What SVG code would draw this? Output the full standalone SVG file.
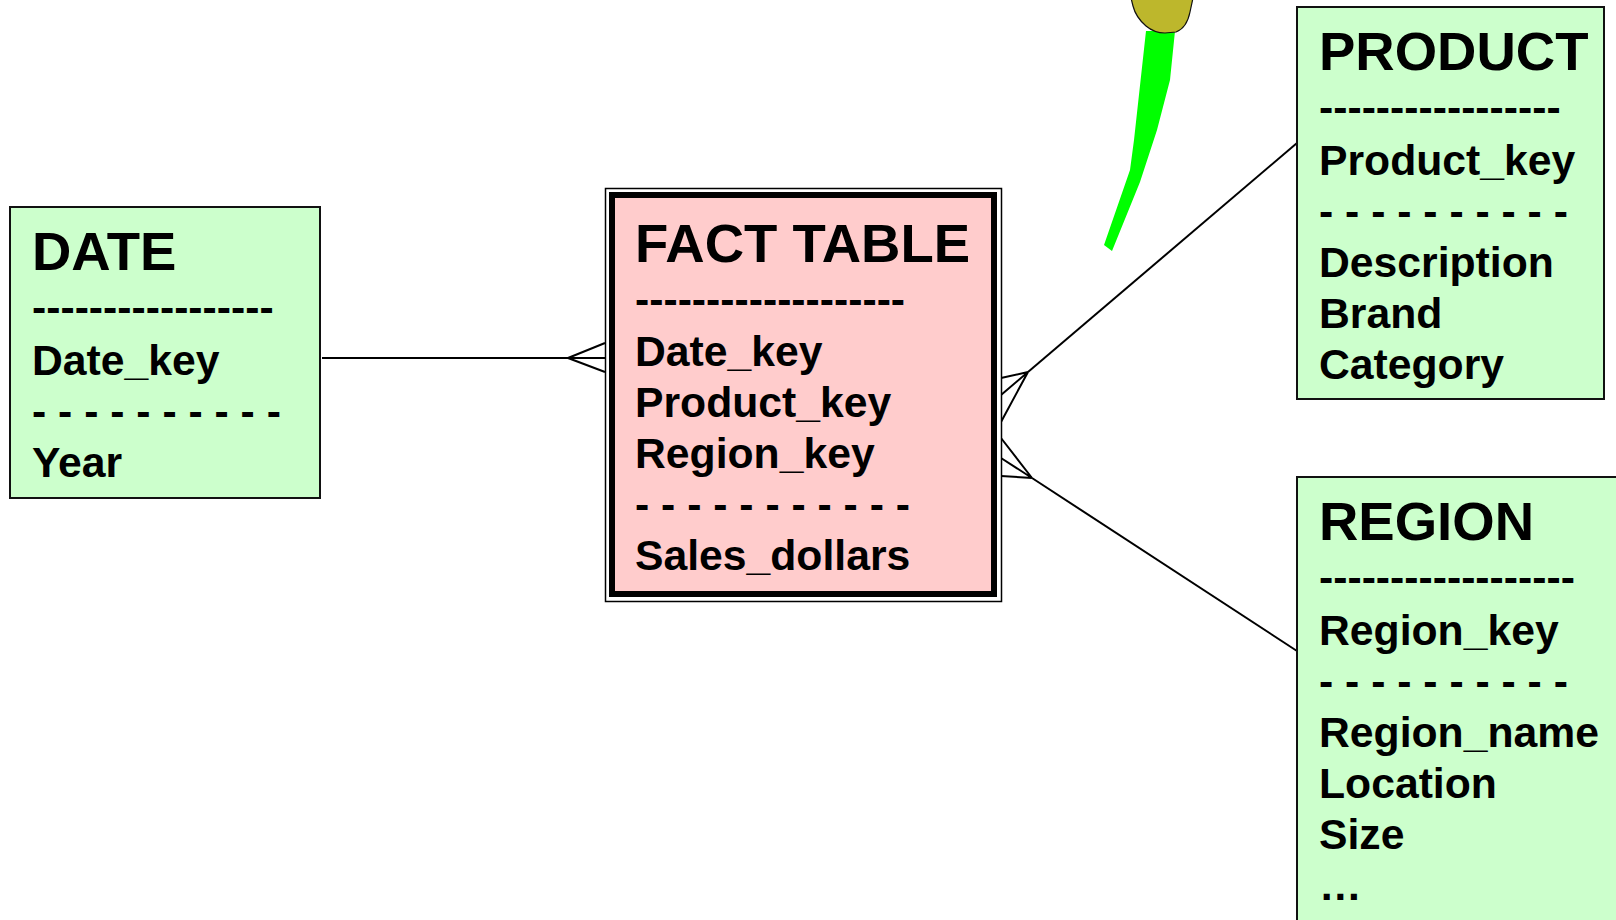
<svg xmlns="http://www.w3.org/2000/svg" width="1616" height="920" viewBox="0 0 1616 920">
  <style>
    text { font-family: "Liberation Sans", Arial, sans-serif; font-weight: bold; fill: #000; }
    .title { font-size: 54.5px; }
    .body { font-size: 42.7px; }
    .dim { fill: #CCFFCC; stroke: #111; stroke-width: 2; }
    .link { fill: none; stroke: #000; stroke-width: 2; stroke-linejoin: miter; }
  </style>

  <rect width="1616" height="920" fill="#fff"/>

  <!-- pen / pointer decoration -->
  <g id="pointer">
    <path d="M1146,31 L1175,31 L1170,80 L1157,130 L1140,182 L1112,251 L1104,245 L1130,170 L1134,140 Z" fill="#00FF00"/>
    <path d="M1131,-2 L1133,6 C1135,14 1139,20 1146,26 C1152,31 1158,33 1165,33 L1176,32 C1184,29 1188,22 1190,12 L1193,-2 Z" fill="#BDB72C" stroke="#111" stroke-width="1.2"/>
  </g>

  <!-- connectors with crow's-foot ends at the fact table -->
  <g id="connectors" class="link">
    <path d="M322,358 L568,358"/>
    <path d="M605,343 L568,358 L605,358 M568,358 L605,372"/>
    <path d="M1297,143 L1028,372"/>
    <path d="M1001,378 L1028,372 L1001,395 M1028,372 L1001,422"/>
    <path d="M1297,651 L1032,478"/>
    <path d="M1001,438 L1032,478 L1001,458 M1032,478 L1001,476"/>
  </g>

  <g id="date">
    <rect class="dim" x="10" y="207" width="310" height="291"/>
    <text class="title" x="32" y="270">DATE</text>
    <text class="body" x="32" y="322">-----------------</text>
    <text class="body" x="32" y="375">Date_key</text>
    <text class="body" x="32" y="426" xml:space="preserve">- - - - - - - - - -</text>
    <text class="body" x="32" y="477">Year</text>
  </g>

  <g id="fact-table">
    <rect x="605.5" y="188.5" width="396" height="413" fill="#fff" stroke="#000" stroke-width="1.5"/>
    <rect x="612" y="195" width="382" height="399" fill="#FFCCCC" stroke="#000" stroke-width="6"/>
    <text class="title" x="635" y="262">FACT TABLE</text>
    <text class="body" x="635" y="314">-------------------</text>
    <text class="body" x="635" y="366">Date_key</text>
    <text class="body" x="635" y="417">Product_key</text>
    <text class="body" x="635" y="468">Region_key</text>
    <text class="body" x="635" y="519" xml:space="preserve">- - - - - - - - - - -</text>
    <text class="body" x="635" y="570">Sales_dollars</text>
  </g>

  <g id="product">
    <rect class="dim" x="1297" y="7" width="307" height="392"/>
    <text class="title" x="1319" y="70">PRODUCT</text>
    <text class="body" x="1319" y="122">-----------------</text>
    <text class="body" x="1319" y="175">Product_key</text>
    <text class="body" x="1319" y="226" xml:space="preserve">- - - - - - - - - -</text>
    <text class="body" x="1319" y="277">Description</text>
    <text class="body" x="1319" y="328">Brand</text>
    <text class="body" x="1319" y="379">Category</text>
  </g>

  <g id="region">
    <rect class="dim" x="1297" y="477" width="340" height="460"/>
    <text class="title" x="1319" y="540">REGION</text>
    <text class="body" x="1319" y="592">------------------</text>
    <text class="body" x="1319" y="645">Region_key</text>
    <text class="body" x="1319" y="696" xml:space="preserve">- - - - - - - - - -</text>
    <text class="body" x="1319" y="747">Region_name</text>
    <text class="body" x="1319" y="798">Location</text>
    <text class="body" x="1319" y="849">Size</text>
    <text class="body" x="1319" y="900">…</text>
  </g>
</svg>
